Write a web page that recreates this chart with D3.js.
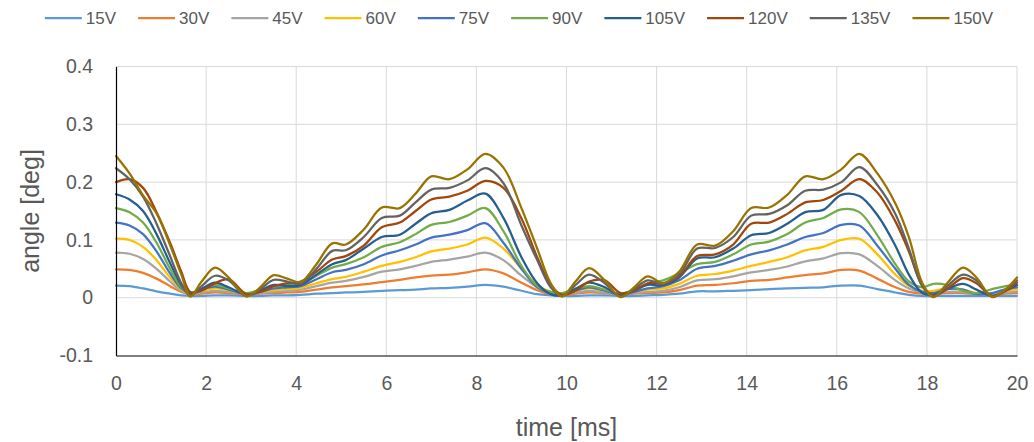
<!DOCTYPE html>
<html>
<head>
<meta charset="utf-8">
<script src="https://cdn.jsdelivr.net/npm/d3@7"></script>
<style>
  html, body { margin: 0; padding: 0; background: #fff; }
  svg { display: block; }
  text { font-family: "Liberation Sans", Arial, sans-serif; fill: #595959; }
</style>
</head>
<body>
<svg id="chart" width="1034" height="442"></svg>
<script>
// ---- data ----
const time = [0, 0.3, 0.6, 0.9, 1.2, 1.45, 1.65, 1.9, 2.2, 2.5, 2.9, 3.2, 3.5, 3.8, 4.1,
  4.45, 4.8, 5.1, 5.5, 5.9, 6.3, 6.65, 7.0, 7.4, 7.8, 8.2, 8.6, 9.0, 9.35, 9.65,
  9.9, 10.2, 10.5, 10.85, 11.2, 11.5, 11.8, 12.15, 12.5, 12.9, 13.3, 13.7, 14.1, 14.5, 14.9,
  15.3, 15.7, 16.1, 16.5, 16.9, 17.3, 17.6, 17.9, 18.15, 18.45, 18.8, 19.1, 19.45, 19.75, 20];

const seriesNames = ["15V", "30V", "45V", "60V", "75V", "90V", "105V", "120V", "135V", "150V"];
const seriesColors = ["#5B9BD5", "#ED7D31", "#A5A5A5", "#FFC000", "#4472C4", "#70AD47",
  "#255E91", "#9E480E", "#636363", "#997300"];

const v15 = [.021, .02, .016, .011, .007, .004, .003, .003, .004, .004, .003, .003, .004, .004, .005,
  .007, .008, .009, .01, .012, .013, .014, .016, .017, .019, .022, .019, .012, .006, .004,
  .003, .003, .004, .004, .003, .003, .004, .005, .007, .011, .011, .012, .013, .015, .016,
  .017, .018, .021, .021, .015, .009, .005, .003, .003, .003, .003, .003, .003, .003, .003];
const v30 = [.049, .048, .043, .033, .02, .01, .006, .007, .009, .008, .006, .007, .008, .009, .01,
  .014, .018, .02, .023, .027, .031, .035, .038, .04, .044, .049, .042, .026, .013, .006,
  .005, .007, .009, .008, .006, .007, .008, .009, .013, .021, .022, .025, .029, .031, .035,
  .039, .042, .048, .047, .033, .018, .01, .007, .007, .008, .008, .006, .006, .007, .008];
const v45 = [.078, .076, .067, .05, .028, .012, .007, .009, .012, .01, .007, .008, .01, .012, .014,
  .02, .026, .029, .036, .045, .049, .055, .062, .066, .071, .078, .065, .038, .018, .008,
  .006, .009, .012, .009, .006, .008, .01, .012, .018, .03, .032, .037, .044, .048, .054,
  .063, .068, .077, .075, .055, .03, .016, .009, .008, .01, .01, .006, .006, .009, .011];
const v60 = [.102, .1, .088, .065, .035, .014, .008, .012, .016, .013, .008, .01, .013, .015, .017,
  .025, .032, .036, .045, .055, .062, .07, .08, .085, .092, .104, .085, .05, .022, .01,
  .007, .012, .016, .012, .007, .01, .014, .016, .024, .038, .041, .047, .055, .062, .07,
  .082, .088, .1, .102, .075, .04, .02, .012, .012, .016, .014, .008, .008, .012, .015];
const v75 = [.13, .125, .11, .08, .042, .016, .008, .014, .019, .014, .006, .01, .016, .018, .02,
  .032, .044, .048, .058, .073, .082, .092, .104, .109, .117, .129, .095, .05, .018, .008,
  .005, .012, .018, .012, .005, .01, .016, .02, .03, .05, .055, .064, .075, .082, .092,
  .105, .112, .126, .125, .09, .05, .022, .01, .008, .015, .014, .006, .008, .015, .018];
const v90 = [.155, .148, .13, .095, .05, .018, .008, .016, .022, .016, .008, .014, .02, .022, .024,
  .038, .052, .058, .07, .088, .096, .11, .126, .131, .142, .155, .115, .055, .02, .01,
  .008, .016, .02, .014, .007, .014, .024, .03, .042, .058, .062, .075, .092, .097, .11,
  .13, .138, .153, .148, .108, .058, .028, .018, .024, .022, .012, .008, .015, .02, .022];
const v105 = [.179, .17, .15, .11, .06, .022, .006, .015, .026, .018, .005, .012, .022, .02, .022,
  .04, .058, .065, .085, .105, .109, .128, .146, .152, .168, .18, .138, .07, .025, .006,
  .004, .015, .026, .018, .004, .012, .022, .022, .035, .068, .07, .085, .108, .112, .128,
  .148, .152, .178, .176, .143, .09, .04, .008, .005, .015, .024, .014, .003, .012, .022];
const v120 = [.2, .205, .19, .148, .095, .045, .01, .012, .025, .032, .006, .01, .02, .025, .028,
  .045, .066, .072, .09, .122, .13, .15, .17, .175, .185, .202, .19, .137, .07, .022,
  .005, .012, .028, .03, .008, .012, .025, .025, .037, .072, .075, .092, .128, .13, .145,
  .165, .169, .185, .205, .182, .132, .08, .02, .004, .015, .034, .025, .003, .012, .026];
const v135 = [.224, .205, .175, .128, .072, .025, .004, .02, .038, .03, .003, .015, .031, .028, .024,
  .05, .081, .082, .105, .138, .142, .165, .187, .19, .203, .224, .198, .125, .065, .018,
  .003, .022, .04, .025, .002, .015, .03, .024, .04, .085, .086, .105, .142, .145, .16,
  .185, .187, .2, .226, .195, .145, .085, .02, .002, .02, .04, .03, .002, .014, .03];
const v150 = [.245, .215, .177, .146, .091, .04, .002, .028, .052, .035, .002, .018, .039, .033, .027,
  .058, .094, .092, .118, .156, .155, .18, .21, .205, .222, .249, .225, .155, .085, .025,
  .002, .028, .051, .03, .001, .018, .037, .025, .045, .092, .09, .115, .155, .156, .178,
  .21, .205, .222, .249, .215, .163, .105, .025, .001, .025, .052, .035, .001, .015, .035];

const seriesValues = [v15, v30, v45, v60, v75, v90, v105, v120, v135, v150];

const xTicks = [0, 2, 4, 6, 8, 10, 12, 14, 16, 18, 20];
const yTicks = [-0.1, 0, 0.1, 0.2, 0.3, 0.4];
const yTickLabels = ["-0.1", "0", "0.1", "0.2", "0.3", "0.4"];
const xTitle = "time [ms]";
const yTitle = "angle [deg]";

// ---- layout ----
const svg = d3.select("#chart");
const L = 116, R = 1017, T = 66.5, B = 355.5;
const x = d3.scaleLinear().domain([0, 20]).range([L, R]);
const y = d3.scaleLinear().domain([-0.1, 0.4]).range([B, T]);

// gridlines
const grid = svg.append("g").attr("stroke", "#d9d9d9").attr("stroke-width", 1);
grid.selectAll("line.h").data(yTicks.filter(d => d > -0.1)).join("line")
  .attr("x1", L).attr("x2", R).attr("y1", d => y(d)).attr("y2", d => y(d));
grid.selectAll("line.v").data(xTicks.filter(d => d > 0)).join("line")
  .attr("y1", T).attr("y2", B).attr("x1", d => x(d)).attr("x2", d => x(d));

// series
const line = d3.line().x((d, i) => x(time[i])).y(d => y(d)).curve(d3.curveCatmullRom.alpha(0.5));
svg.append("g").selectAll("path").data(seriesValues).join("path")
  .attr("d", d => line(d))
  .attr("fill", "none")
  .attr("stroke", (d, i) => seriesColors[i])
  .attr("stroke-width", 2.25)
  .attr("stroke-linejoin", "round")
  .attr("stroke-linecap", "round");

// axes
const yAxis = d3.axisLeft(y).tickValues(yTicks).tickSize(0).tickPadding(23)
  .tickFormat((d, i) => yTickLabels[i]);
const gy = svg.append("g").attr("transform", `translate(${L},0)`).call(yAxis);
const xAxis = d3.axisBottom(x).tickValues(xTicks).tickSize(0).tickPadding(21).tickFormat(d3.format("d"));
const gx = svg.append("g").attr("transform", `translate(0,${B})`).call(xAxis);
[gx, gy].forEach(g => {
  g.select(".domain").attr("stroke", "#000").attr("stroke-width", 1.2);
  g.selectAll("text").attr("font-size", 19.5).attr("fill", "#595959")
    .attr("font-family", "Liberation Sans, Arial, sans-serif");
});

// titles
svg.append("text").attr("x", (L + R) / 2).attr("y", 436).attr("text-anchor", "middle")
  .attr("font-size", 25).text(xTitle);
svg.append("text").attr("transform", `translate(39,${(T + B) / 2}) rotate(-90)`)
  .attr("text-anchor", "middle").attr("font-size", 25).text(yTitle);

// legend
const lg = svg.append("g");
const items = lg.selectAll("g").data(seriesNames).join("g");
items.append("line").attr("x1", 0).attr("x2", 37).attr("y1", 18).attr("y2", 18)
  .attr("stroke", (d, i) => seriesColors[i]).attr("stroke-width", 2.25);
items.append("text").attr("x", 41).attr("y", 24).attr("font-size", 17).text(d => d);
let cx = 0;
const offsets = [];
items.each(function () {
  const w = this.querySelector("text").getComputedTextLength();
  offsets.push(cx);
  cx += 41 + w + 22;
});
const total = cx - 22;
const start = 519 - total / 2;
items.attr("transform", (d, i) => `translate(${start + offsets[i]},0)`);
</script>
</body>
</html>
